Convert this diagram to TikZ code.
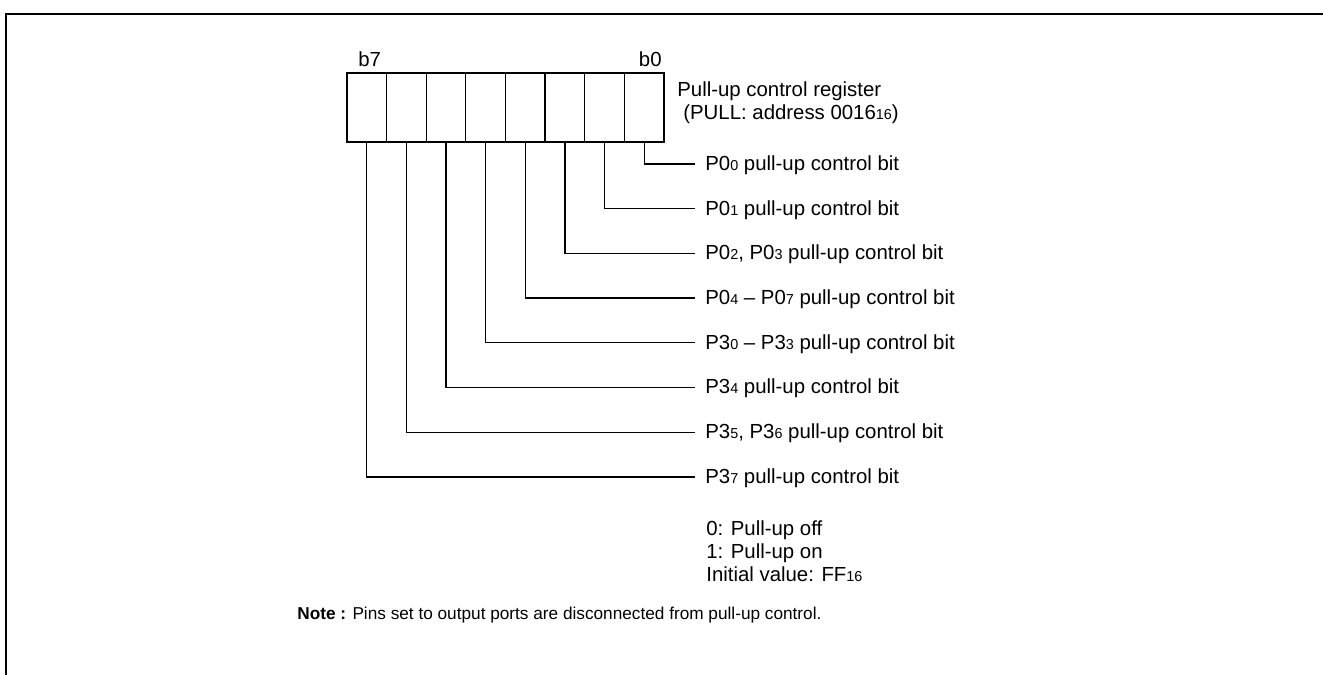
\documentclass[tikz,border=0pt]{standalone}
\usepackage{fontspec}
\setmainfont{Liberation Sans}
\usetikzlibrary{positioning}
\newcommand{\regfont}{\fontsize{11.6pt}{14pt}\selectfont}
\newcommand{\notefont}{\fontsize{9.8pt}{12pt}\selectfont}
\newcommand{\sbit}[1]{{\fontsize{8.2pt}{9pt}\selectfont #1}}

\begin{document}
\begin{tikzpicture}[x=0.02cm,y=-0.02cm,
  every node/.style={font=\regfont,inner sep=0pt},
  regcell/.style={draw,line width=0.7pt,minimum width=0.7925cm,
                  minimum height=1.38cm,outer sep=0pt},
  bitlabel/.style={anchor=west,inner xsep=0.2cm,text height=0.72em,text depth=0pt},
  bitline/.style={line width=0.7pt}]
  \useasboundingbox (0,0) rectangle (1323,675);
  %% Frame
  \draw[line width=1.15pt] (6,675) -- (6,14) -- (1323,14);
  %% Register cells, b7 .. b0
  \node[regcell] (c7) at (366.8,107.5) {};
  \node[regcell,right=0pt of c7] (c6) {};
  \node[regcell,right=0pt of c6] (c5) {};
  \node[regcell,right=0pt of c5] (c4) {};
  \node[regcell,right=0pt of c4] (c3) {};
  \node[regcell,right=0pt of c3] (c2) {};
  \node[regcell,right=0pt of c2] (c1) {};
  \node[regcell,right=0pt of c1] (c0) {};
  \node[anchor=base west] (b7) at (358,67) {b7};
  \node[anchor=base east] (b0) at (662,67) {b0};
  %% Register name
  \node[anchor=base west] (regname) at (677,97) {Pull-up control register};
  \node[anchor=base west] (regaddr) at (683,120) {(PULL: address 0016\sbit{16})};
  %% Bit labels
  \node[bitlabel] (l0) at (695,164) {P0\sbit{0} pull-up control bit};
  \node[bitlabel] (l1) at (695,208.7) {P0\sbit{1} pull-up control bit};
  \node[bitlabel] (l2) at (695,253.4) {P0\sbit{2}, P0\sbit{3} pull-up control bit};
  \node[bitlabel] (l3) at (695,298.1) {P0\sbit{4} -- P0\sbit{7} pull-up control bit};
  \node[bitlabel] (l4) at (695,342.8) {P3\sbit{0} -- P3\sbit{3} pull-up control bit};
  \node[bitlabel] (l5) at (695,387.5) {P3\sbit{4} pull-up control bit};
  \node[bitlabel] (l6) at (695,432.2) {P3\sbit{5}, P3\sbit{6} pull-up control bit};
  \node[bitlabel] (l7) at (695,476.9) {P3\sbit{7} pull-up control bit};
  %% Connectors
  \draw[bitline] (c0.south) |- (l0.west);
  \draw[bitline] (c1.south) |- (l1.west);
  \draw[bitline] (c2.south) |- (l2.west);
  \draw[bitline] (c3.south) |- (l3.west);
  \draw[bitline] (c4.south) |- (l4.west);
  \draw[bitline] (c5.south) |- (l5.west);
  \draw[bitline] (c6.south) |- (l6.west);
  \draw[bitline] (c7.south) |- (l7.west);
  %% Values
  \node[anchor=base west] (val0) at (706,536) {0: Pull-up off};
  \node[anchor=base west] (val1) at (706,559) {1: Pull-up on};
  \node[anchor=base west] (init) at (706,582) {Initial value: FF\sbit{16}};
  %% Note
  \node[anchor=base west,font=\notefont] (note) at (297,620)
        {\textbf{Note :} Pins set to output ports are disconnected from pull-up control.};
\end{tikzpicture}
\end{document}
